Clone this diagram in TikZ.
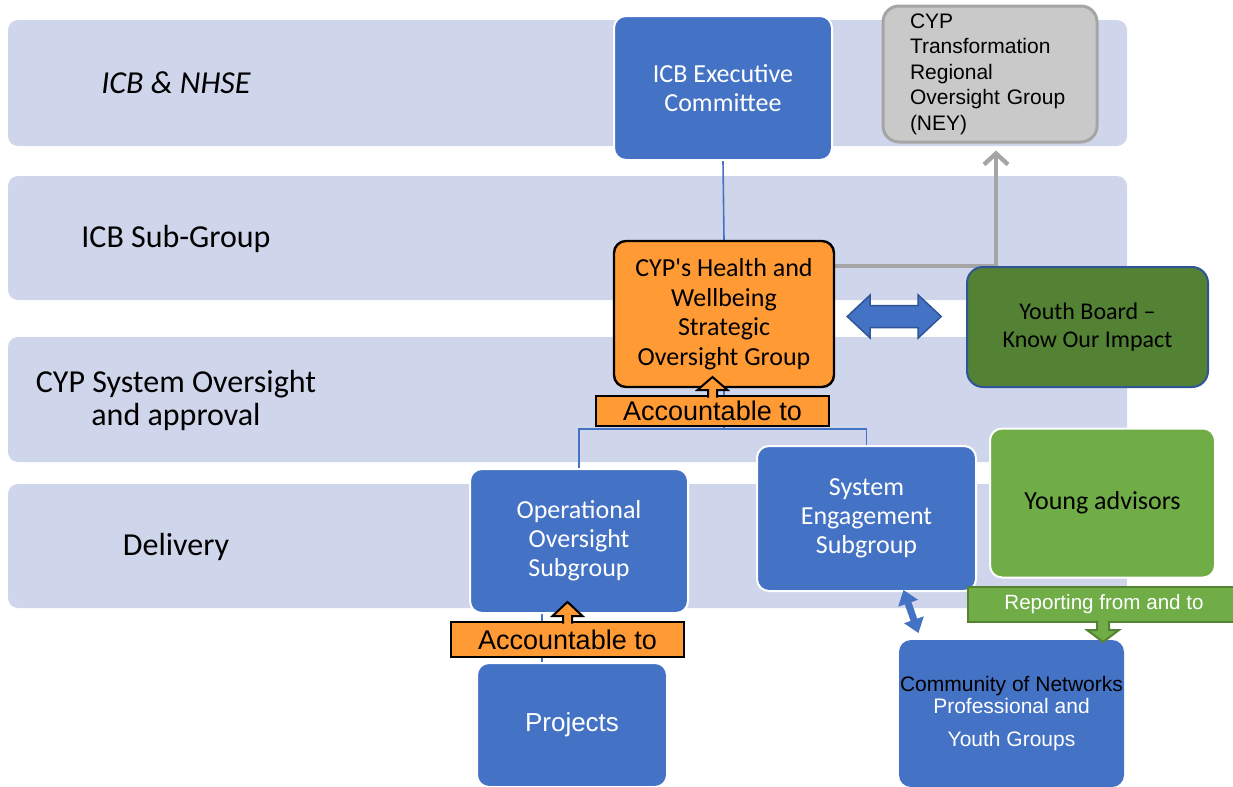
\documentclass[tikz,border=0pt]{standalone}
\usepackage{fontspec}
\setmainfont{Carlito}
\newfontfamily\arialfont{Liberation Sans}
\usetikzlibrary{arrows.meta,calc}
\pgfdeclarelayer{background}
\pgfdeclarelayer{lines}
\pgfdeclarelayer{foreground}
\pgfsetlayers{background,lines,main,foreground}

\definecolor{bandgray}{HTML}{CFD5EA}
\definecolor{boxblue}{HTML}{4472C4}
\definecolor{darkblue}{HTML}{2F5597}
\definecolor{boxorange}{HTML}{FF9A35}
\definecolor{darkgreen}{HTML}{548235}
\definecolor{lightgreen}{HTML}{70AD47}
\definecolor{regfill}{HTML}{C9C9C9}
\definecolor{regline}{HTML}{A5A5A5}

\tikzset{
  band/.style={fill=bandgray, rounded corners=5pt, minimum width=559.5pt, inner sep=0pt},
  bandlabel/.style={font=\fontsize{16}{16.5}\selectfont, align=center},
  bluebox/.style={draw=white, line width=1pt, fill=boxblue, rounded corners=6pt, text=white, align=center, font=\fontsize{13}{14.5}\selectfont},
  accbox/.style={draw=black, line width=1pt, fill=boxorange, inner sep=0pt, font=\arialfont\fontsize{13.5}{15}\selectfont},
  accarrow/.style={fill=boxorange, draw=black, line width=1pt, line join=miter},
  treeline/.style={draw=boxblue, line width=0.8pt},
}

\begin{document}
\begin{tikzpicture}[x=0.5pt,y=-0.5pt]
\useasboundingbox (0,0) rectangle (1233,787);

% levels
\begin{pgfonlayer}{background}
\node[band, minimum height=63pt] (b1) at (567.5,83) {};
\node[band, minimum height=62pt] (b2) at (567.5,238) {};
\node[band, minimum height=62.5pt] (b3) at (567.5,399.5) {};
\node[band, minimum height=62pt] (b4) at (567.5,546) {};
\node[bandlabel] (lab1) at (176,83) {\itshape ICB \& NHSE};
\node[bandlabel] (lab2) at (176,239) {ICB Sub-Group};
\node[bandlabel] (lab3) at (176,400) {CYP System Oversight\\and approval};
\node[bandlabel] (lab4) at (176,547) {Delivery};
\end{pgfonlayer}

% groups
\node[bluebox, minimum width=109pt, minimum height=72pt] (exec) at (723,88) {ICB Executive\\Committee};
\node[draw=regline, line width=1.5pt, fill=regfill, rounded corners=8pt, minimum width=107pt, minimum height=68pt,
  text width=80pt, align=left, font=\arialfont\fontsize{10.5}{12.75}\selectfont] (regional) at (990,74)
  {CYP\\Transformation\\Regional\\Oversight Group\\(NEY)};
\node[draw=black, line width=1.2pt, fill=boxorange, rounded corners=6pt, minimum width=110pt, minimum height=73pt,
  align=center, font=\fontsize{13}{14.75}\selectfont] (health) at (724,314)
  {CYP\textquotesingle s Health and\\Wellbeing\\Strategic\\Oversight Group};
\node[draw=darkblue, line width=1pt, fill=darkgreen, rounded corners=8pt, minimum width=120.5pt, minimum height=60pt,
  align=center, font=\fontsize{12}{14}\selectfont] (youth) at (1087.5,327) {Youth Board --\\Know Our Impact};
\node[bluebox, minimum width=109pt, minimum height=72pt] (ops) at (579,541) {Operational\\Oversight\\Subgroup};
\node[bluebox, minimum width=109.5pt, minimum height=72.5pt] (ses) at (866.5,518.5) {System\\Engagement\\Subgroup};
\node[bluebox, fill=lightgreen, text=black, minimum width=112.5pt, minimum height=74.5pt] (young) at (1102.5,503) {Young advisors};
\node[bluebox, minimum width=95pt, minimum height=62pt, font=\arialfont\fontsize{13}{15}\selectfont] (projects) at (572,725) {Projects};
\node[bluebox, draw=none, minimum width=112.5pt, minimum height=73.5pt, inner xsep=0pt,
  font=\arialfont\fontsize{10.5}{11}\selectfont] (community) at (1011.5,713.5)
  {\textcolor{black}{Community of Networks}\\Professional and\\[5.5pt]Youth Groups};
\node[draw=darkgreen, line width=1pt, fill=lightgreen, minimum width=136pt, minimum height=17.5pt, inner sep=0pt,
  text=white, font=\arialfont\fontsize{10.3}{12}\selectfont] (report) at (1104,604.5) {Reporting from and to};

% connectors
\begin{pgfonlayer}{lines}
\draw[treeline] (exec.south) -- (health.north);
\draw[treeline] (health.south) -- ++(0,41);
\draw[treeline] (ops.north) |- ($(health.south)+(0,41)$) -| (ses.north);
\draw[treeline] ($(ops.south)+(-37,0)$) coordinate (opsfoot) -- (opsfoot |- projects.north);
\draw[draw=regline, line width=2.2pt, -{Straight Barb[length=5.5pt,width=12pt]}]
  ($(health.east)+(0,-48)$) -| ($(regional.south)+(6,7)$);
\end{pgfonlayer}

\begin{pgfonlayer}{foreground}
\filldraw[fill=boxblue, draw=darkblue, line width=0.75pt, line join=miter] ($(health.east)+(12,2.5)$)
  -- ++(23,-21.5) -- ++(0,10.5) -- ++(48,0) -- ++(0,-10.5) -- ++(23,21.5)
  -- ++(-23,21.5) -- ++(0,-10.5) -- ++(-48,0) -- ++(0,10.5) -- cycle;
\node[accbox, minimum width=116.5pt, minimum height=15pt] (acc1) at (712.5,411) {Accountable to};
\filldraw[accarrow] ($(acc1.north)+(-4.5,2.5)$) -- ++(0,-7.5) -- ++(-10.5,0) -- ++(15,-13) -- ++(15,13) -- ++(-10.5,0) -- ++(0,7.5);
\node[accbox, minimum width=116.5pt, minimum height=17.5pt] (acc2) at (567.5,639.5) {Accountable to};
\filldraw[accarrow] ($(acc2.north)+(-4.5,2.5)$) -- ++(0,-7.5) -- ++(-10.5,0) -- ++(15,-14) -- ++(15,14) -- ++(-10.5,0) -- ++(0,7.5);
\filldraw[fill=lightgreen, draw=darkgreen, line width=1pt] ($(report.south)+(-7,-2.5)$) -- ++(0,9.5) -- ++(-10,0)
  -- ++(16,12) -- ++(16,-12) -- ++(-10,0) -- ++(0,-9.5);
\draw[draw=boxblue, line width=3.5pt, {Triangle[width=10pt,length=7pt]}-{Triangle[width=10pt,length=7pt]}]
  ($(ses.south)+(37,-2)$) -- ($(community.north)+(-93,-6)$);
\end{pgfonlayer}
\end{tikzpicture}
\end{document}
